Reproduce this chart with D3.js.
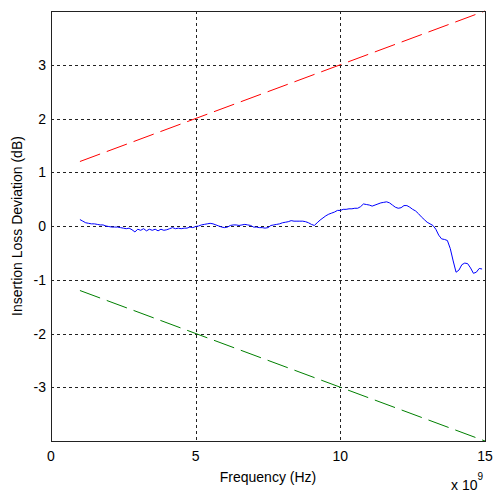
<!DOCTYPE html>
<html>
<head>
<meta charset="utf-8">
<script src="https://cdn.jsdelivr.net/npm/d3@7"></script>
<style>
  body { margin: 0; background: #fff; }
  svg { display: block; font-family: "Liberation Sans", Arial, sans-serif; }
</style>
</head>
<body>
<div id="graph"></div>
<script>
// frequency in GHz (axis shows x 10^9)
const xTicks = [0, 5, 10, 15];
const yTicks = [-3, -2, -1, 0, 1, 2, 3];

const limitFreq = [1, 15];
const upperLimit = [1.2, 4.0];
const lowerLimit = [-1.2, -4.0];

const measFreq = [
  1.0, 1.1, 1.2, 1.3, 1.4, 1.5, 1.6, 1.7, 1.8, 1.9,
  2.0, 2.1, 2.2, 2.3, 2.4, 2.5, 2.6, 2.7, 2.8, 2.9,
  3.0, 3.1, 3.2, 3.3, 3.4, 3.5, 3.6, 3.7, 3.8, 3.9,
  4.0, 4.1, 4.2, 4.3, 4.4, 4.5, 4.6, 4.7, 4.8, 4.9,
  5.0, 5.1, 5.2, 5.3, 5.4, 5.5, 5.6, 5.7, 5.8, 5.9,
  6.0, 6.1, 6.2, 6.3, 6.4, 6.5, 6.6, 6.7, 6.8, 6.9,
  7.0, 7.1, 7.2, 7.3, 7.4, 7.5, 7.6, 7.7, 7.8, 7.9,
  8.0, 8.1, 8.2, 8.3, 8.4, 8.5, 8.6, 8.7, 8.8, 8.9,
  9.0, 9.1, 9.2, 9.3, 9.4, 9.5, 9.6, 9.7, 9.8, 9.9,
  10.0, 10.1, 10.2, 10.3, 10.4, 10.5, 10.6, 10.7, 10.8, 10.9,
  11.0, 11.1, 11.2, 11.3, 11.4, 11.5, 11.6, 11.7, 11.8, 11.9,
  12.0, 12.1, 12.2, 12.3, 12.4, 12.5, 12.6, 12.7, 12.8, 12.9,
  13.0, 13.1, 13.2, 13.3, 13.4, 13.5, 13.6, 13.7, 13.8, 13.9,
  14.0, 14.1, 14.2, 14.3, 14.4, 14.5, 14.6, 14.7, 14.8, 14.9
];
const measDev = [
  0.12, 0.09, 0.06, 0.05, 0.04, 0.04, 0.03, 0.02, 0.02, 0.00,
  -0.01, -0.02, -0.02, -0.02, -0.03, -0.04, -0.05, -0.04, -0.07, -0.11,
  -0.06, -0.08, -0.05, -0.09, -0.06, -0.08, -0.06, -0.09, -0.06, -0.08,
  -0.07, -0.05, -0.03, -0.05, -0.04, -0.05, -0.04, -0.04, -0.02, -0.03,
  -0.01, 0.00, 0.02, 0.03, 0.04, 0.05, 0.04, 0.02, 0.00, -0.02,
  -0.03, -0.02, 0.01, 0.02, 0.02, 0.01, 0.02, 0.03, 0.02, 0.01,
  -0.02, -0.02, -0.03, -0.03, -0.04, -0.03, 0.01, 0.02, 0.03, 0.04,
  0.06, 0.07, 0.08, 0.10, 0.09, 0.09, 0.09, 0.09, 0.08, 0.06,
  0.03, 0.01, 0.06, 0.11, 0.15, 0.19, 0.22, 0.24, 0.26, 0.29,
  0.29, 0.31, 0.31, 0.32, 0.32, 0.33, 0.33, 0.36, 0.41, 0.40,
  0.39, 0.37, 0.39, 0.41, 0.43, 0.44, 0.45, 0.43, 0.39, 0.35,
  0.33, 0.34, 0.38, 0.38, 0.35, 0.31, 0.28, 0.23, 0.17, 0.12,
  0.07, 0.04, 0.01, -0.06, -0.17, -0.24, -0.25, -0.27, -0.42, -0.65,
  -0.86, -0.82, -0.72, -0.69, -0.70, -0.78, -0.88, -0.86, -0.79, -0.80
];

const W = 500, H = 498;
const plot = { left: 51, right: 485, top: 11, bottom: 441 };

const x = d3.scaleLinear().domain([0, 15]).range([plot.left, plot.right]);
const y = d3.scaleLinear().domain([-4, 4]).range([plot.bottom, plot.top]);

const svg = d3.select("#graph").append("svg")
    .attr("width", W)
    .attr("height", H);

svg.append("rect").attr("width", W).attr("height", H).attr("fill", "#fff");

// grid
const grid = svg.append("g")
    .attr("stroke", "#222")
    .attr("stroke-width", 1)
    .attr("stroke-dasharray", "3,3");

grid.selectAll("line.gx")
    .data(xTicks.filter(t => t > 0 && t < 15))
    .join("line")
    .attr("x1", d => Math.round(x(d)) + 0.5).attr("x2", d => Math.round(x(d)) + 0.5)
    .attr("y1", plot.top).attr("y2", plot.bottom);

grid.selectAll("line.gy")
    .data(yTicks)
    .join("line")
    .attr("class", "gy")
    .attr("x1", plot.left).attr("x2", plot.right)
    .attr("y1", d => Math.round(y(d)) + 0.5).attr("y2", d => Math.round(y(d)) + 0.5);

// limit lines
const line = d3.line().x(d => x(d[0])).y(d => y(d[1]));

svg.append("path")
    .datum(d3.zip(limitFreq, upperLimit))
    .attr("d", line)
    .attr("fill", "none")
    .attr("stroke", "#ff0000")
    .attr("stroke-width", 1)
    .attr("stroke-dasharray", "21.5,7.1");

svg.append("path")
    .datum(d3.zip(limitFreq, lowerLimit))
    .attr("d", line)
    .attr("fill", "none")
    .attr("stroke", "#008000")
    .attr("stroke-width", 1)
    .attr("stroke-dasharray", "21.5,7.1");

svg.append("path")
    .datum(d3.zip(measFreq, measDev))
    .attr("d", line)
    .attr("fill", "none")
    .attr("stroke", "#0000ff")
    .attr("stroke-width", 1);

// axes box
svg.append("rect")
    .attr("x", plot.left + 0.5).attr("y", plot.top + 0.5)
    .attr("width", plot.right - plot.left).attr("height", plot.bottom - plot.top)
    .attr("fill", "none")
    .attr("stroke", "#222")
    .attr("stroke-width", 1);

// tick labels
svg.append("g")
    .selectAll("text")
    .data(xTicks)
    .join("text")
    .attr("x", d => x(d))
    .attr("y", 461)
    .attr("text-anchor", "middle")
    .attr("font-size", 14)
    .attr("fill", "#000")
    .text(d => d);

svg.append("g")
    .selectAll("text")
    .data(yTicks)
    .join("text")
    .attr("x", 46)
    .attr("y", d => y(d) + 5)
    .attr("text-anchor", "end")
    .attr("font-size", 14)
    .attr("fill", "#000")
    .text(d => d);

// axis labels
svg.append("text")
    .attr("x", x(7.5))
    .attr("y", 482)
    .attr("text-anchor", "middle")
    .attr("font-size", 14)
    .text("Frequency (Hz)");

svg.append("text")
    .attr("transform", `translate(22,${y(0)}) rotate(-90)`)
    .attr("text-anchor", "middle")
    .attr("font-size", 14)
    .text("Insertion Loss Deviation (dB)");

const exp = svg.append("text")
    .attr("x", 451)
    .attr("y", 490)
    .attr("font-size", 14);
exp.append("tspan").text("x 10");
exp.append("tspan").attr("dy", -10).attr("font-size", 10).text("9");
</script>
</body>
</html>
